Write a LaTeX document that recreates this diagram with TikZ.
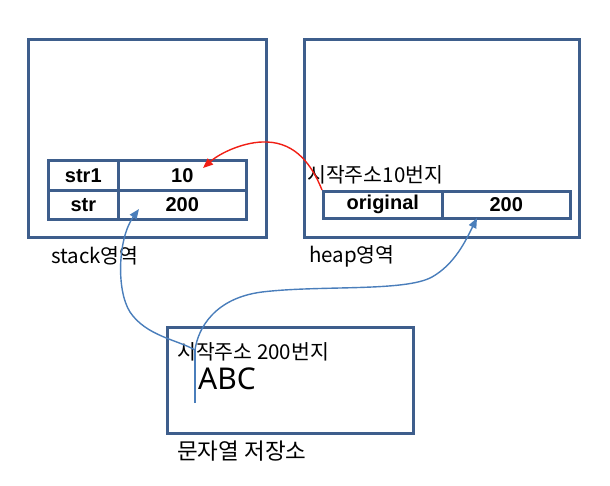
\documentclass[tikz,border=0pt]{standalone}
\usepackage{fontspec}
\setmainfont{Noto Sans CJK KR}
\newfontfamily\latf{Noto Sans}
\newfontfamily\boldf{Liberation Sans}
\usetikzlibrary{arrows.meta}
\definecolor{boxc}{RGB}{62,94,140}
\definecolor{linkc}{RGB}{74,126,187}
\definecolor{redc}{RGB}{240,30,20}
\tikzset{
  area/.style={draw=boxc, line width=3pt, anchor=north west, inner sep=0pt},
  cell/.style={draw=boxc, line width=2.6pt, anchor=north west, inner sep=0pt, font=\boldf\bfseries\fontsize{20}{22}\selectfont},
  lbl/.style={anchor=west, inner sep=0pt, font=\fontsize{20.5}{22}\selectfont},
  link/.style={draw=linkc, line width=1.4pt, -{Triangle[length=10pt,width=8pt]}},
  rlink/.style={draw=redc, line width=1.4pt, -{Triangle[length=10pt,width=8pt]}}
}
\begin{document}
\begin{tikzpicture}[x=1pt,y=-1pt]
\useasboundingbox (0,0) rectangle (610,485);
% areas
\node[area, minimum width=238pt, minimum height=198pt] (stack) at (27,38) {};
\node[area, minimum width=275pt, minimum height=198pt] (heap) at (303,38) {};
\node[area, minimum width=246pt, minimum height=106pt] (pool) at (166,326) {};
% stack cells
\node[cell, minimum width=70pt, minimum height=30pt] (s1n) at (47,159) {str1};
\node[cell, minimum width=128pt, minimum height=30pt] (s1v) at (117,159) {10};
\node[cell, minimum width=70pt, minimum height=29pt] (s2n) at (47,189) {str};
\node[cell, minimum width=128pt, minimum height=29pt] (s2v) at (117,189) {200};
% heap cells
\node[cell, minimum width=119pt, minimum height=27pt] (hn) at (322,190) {original};
\node[cell, minimum width=128pt, minimum height=27pt] (hv) at (441,190) {200};
% labels
\node[lbl] (stacklbl) at (51,256) {stack영역};
\node[lbl] (heaplbl) at (309,256) {heap영역};
\node[lbl] (addr10) at (307,175) {시작주소10번지};
\node[lbl] (addr200) at (177,352) {시작주소 200번지};
\node[anchor=west, inner sep=0pt, font=\latf\fontsize{30}{32}\selectfont] (abc) at (198,379) {ABC};
\node[anchor=west, inner sep=0pt, font=\fontsize{22.5}{24}\selectfont] (poollbl) at (177,451) {문자열 저장소};
% pointer coordinates
\coordinate (ptrtop) at (195,350);
\coordinate (ptrbot) at (195,403);
\coordinate (tip10) at (203,168);
\coordinate (tipS) at (139,209);
\coordinate (tipH) at (477,218);
% connectors
\draw[rlink] (hn.north west) .. controls (312,165) and (296,143) .. (267,142)
  .. controls (245,141) and (220,153) .. (tip10);
\draw[draw=linkc, line width=1.4pt] (ptrbot) -- (ptrtop);
\draw[link] (ptrtop) .. controls (198,328) and (215,298) .. (262,292)
  .. controls (320,285) and (405,292) .. (432,277)
  .. controls (455,264) and (466,240) .. (tipH);
\draw[link] (ptrtop) .. controls (178,340) and (146,336) .. (130,312)
  .. controls (116,290) and (118,238) .. (tipS);
\end{tikzpicture}
\end{document}
